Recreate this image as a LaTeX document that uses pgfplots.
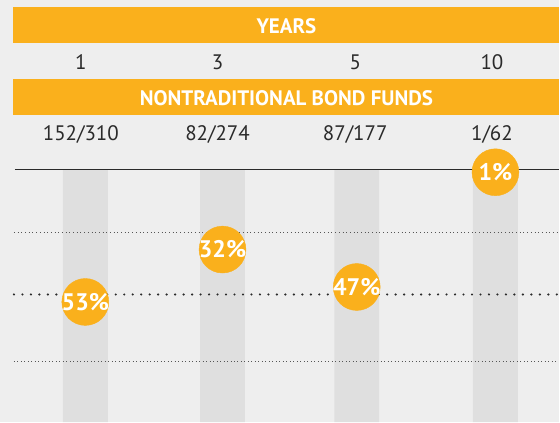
\documentclass[border=0pt]{standalone}
\usepackage{pgfplots}
\pgfplotsset{compat=1.18}
\usepackage{fontspec}
\setmainfont{PT Sans}
\definecolor{bg}{HTML}{EEEEEE}
\definecolor{org}{HTML}{FAB01C}
\definecolor{barg}{HTML}{DFDFDF}
\definecolor{txt}{HTML}{2A2A2A}
\begin{document}
\begin{tikzpicture}
\begin{axis}[
  scale only axis, width=560pt, height=423pt,
  xmin=0, xmax=560, ymin=-68, ymax=101.2, y dir=reverse,
  axis background/.style={fill=bg},
  axis line style={draw=none}, major tick length=0pt,
  ytick=\empty,
  xtick={81,218,356,493}, xticklabels={1,3,5,10},
  xticklabel pos=upper,
  xticklabel style={anchor=center, yshift=-62pt, text=txt, font=\fontsize{21}{24}\selectfont},
  clip=false,
]
% header bands
\fill[org] (axis cs:13,-65.2) rectangle (axis cs:560,-50.8);
\node[text=white, font=\bfseries\fontsize{21}{24}\selectfont] at (axis cs:287,-57.6) {YEARS};
\fill[org] (axis cs:13,-36.4) rectangle (axis cs:560,-22);
\node[text=white, font=\bfseries\fontsize{21}{24}\selectfont] at (axis cs:287,-28.8) {NONTRADITIONAL BOND FUNDS};
% ratio labels
\node[text=txt, font=\fontsize{21}{24}\selectfont] at (axis cs:81,-14.2) {152/310};
\node[text=txt, font=\fontsize{21}{24}\selectfont] at (axis cs:218,-14.2) {82/274};
\node[text=txt, font=\fontsize{21}{24}\selectfont] at (axis cs:356,-14.2) {87/177};
\node[text=txt, font=\fontsize{21}{24}\selectfont] at (axis cs:493,-14.2) {1/62};
% gray column bars
\addplot[ybar, bar width=45pt, draw=none, fill=barg] coordinates {(85.5,101.2) (223,101.2) (357.5,101.2) (496.5,101.2)};
% reference lines
\draw[txt, line width=1.4pt] (axis cs:15,0) -- (axis cs:560,0);
\draw[txt!80, line width=1pt, dash pattern=on 1pt off 2.7pt] (axis cs:14,25.2) -- (axis cs:560,25.2);
\draw[txt, line width=2.4pt, line cap=round, dash pattern=on 0pt off 8.5pt] (axis cs:14,50) -- (axis cs:560,50);
\draw[txt!80, line width=1pt, dash pattern=on 1pt off 2.5pt] (axis cs:14,76.8) -- (axis cs:560,76.8);
% percentile circles
\addplot[org, only marks, mark=*, mark size=23.5pt, mark options={draw=org, fill=org},
  point meta=explicit symbolic,
  nodes near coords,
  nodes near coords style={anchor=center, text=white, font=\bfseries\fontsize{24}{26}\selectfont}]
  coordinates {(85.5,53)[53\%] (223,32)[32\%] (357.5,47)[47\%] (496.5,1)[1\%]};
\end{axis}
\end{tikzpicture}
\end{document}
